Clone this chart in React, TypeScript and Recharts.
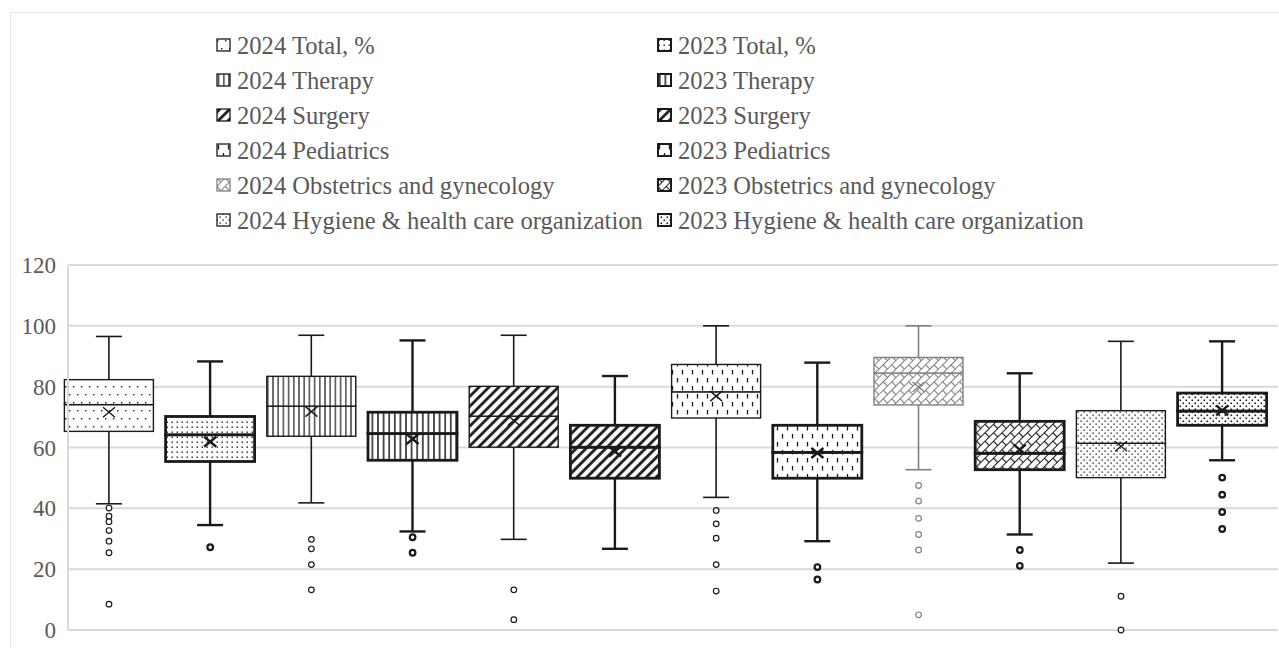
import React from 'react';
import { ComposedChart, Bar, Scatter, XAxis, YAxis, CartesianGrid } from 'recharts';

const categories = [
  '2024 Total, %',
  '2023 Total, %',
  '2024 Therapy',
  '2023 Therapy',
  '2024 Surgery',
  '2023 Surgery',
  '2024 Pediatrics',
  '2023 Pediatrics',
  '2024 Obstetrics and gynecology',
  '2023 Obstetrics and gynecology',
  '2024 Hygiene & health care organization',
  '2023 Hygiene & health care organization',
];

const whiskerLow = [41.5, 34.5, 41.8, 32.4, 29.8, 26.7, 43.6, 29.2, 52.7, 31.4, 22.0, 55.8];
const q1 = [65.3, 55.4, 63.7, 55.8, 60.1, 49.9, 69.7, 49.9, 74.0, 52.7, 50.1, 67.3];
const median = [74.1, 64.2, 73.6, 64.6, 70.3, 60.1, 78.3, 58.4, 84.5, 58.1, 61.4, 72.0];
const q3 = [82.3, 70.2, 83.4, 71.6, 80.1, 67.3, 87.3, 67.3, 89.6, 68.6, 72.1, 77.9];
const whiskerHigh = [96.5, 88.3, 96.9, 95.2, 96.9, 83.5, 100, 87.9, 100, 84.4, 94.9, 94.9];
const mean = [71.6, 61.9, 71.8, 62.8, 68.9, 58.7, 76.9, 58.2, 79.9, 59.3, 60.4, 72.2];
const outliers = [
  [40.1, 37.4, 35.6, 32.7, 29.2, 25.4, 8.5],
  [27.2],
  [29.8, 26.7, 21.5, 13.2],
  [30.5, 25.4],
  [13.2, 3.4],
  [],
  [39.3, 34.9, 30.2, 21.5, 12.8],
  [20.7, 16.6],
  [47.5, 42.4, 36.7, 31.4, 26.3, 5.0],
  [26.3, 21.1],
  [11.1, 0],
  [50.1, 44.5, 38.8, 33.2],
];
const yTicks = [0, 20, 40, 60, 80, 100, 120];

const data = categories.map((name, i) => ({
  name,
  whisker: [whiskerLow[i], whiskerHigh[i]],
  lower: [q1[i], median[i]],
  upper: [median[i], q3[i]],
  mean: mean[i],
  out: outliers[i],
}));

const maxOut = Math.max(...outliers.map((o) => o.length));
const outSlots = Array.from({ length: maxOut }, (_, k) => k);

const FONT = '"Liberation Serif", "Times New Roman", serif';
const TEXT = '#595959';
const GRID = '#d9d9d9';

const is2023 = (i: number) => i % 2 === 1;
const strokeOf = (i: number) => (i === 8 ? '#808080' : '#1a1a1a');
const idxOf = (p: any) => categories.indexOf(p?.name);

function Pattern({ i, id }: { i: number; id: string }) {
  const c = strokeOf(i);
  const kind = Math.floor(i / 2);
  const bold = is2023(i);
  if (kind === 0) {
    if (!bold) {
      return (
        <pattern id={id} width={8} height={16} patternUnits="userSpaceOnUse">
          <rect width={8} height={16} fill="#fff" />
          <rect x={1} y={2} width={1.4} height={1.4} fill={c} />
          <rect x={5} y={10} width={1.4} height={1.4} fill={c} />
        </pattern>
      );
    }
    return (
      <pattern id={id} width={5} height={5} patternUnits="userSpaceOnUse">
        <rect width={5} height={5} fill="#fff" />
        <rect x={1.5} y={1.5} width={1.4} height={1.4} fill={c} />
      </pattern>
    );
  }
  if (kind === 1) {
    const sp = bold ? 5.6 : 5.2;
    return (
      <pattern id={id} width={sp} height={10} patternUnits="userSpaceOnUse">
        <rect width={sp} height={10} fill="#fff" />
        <line x1={sp / 2} x2={sp / 2} y1={0} y2={10} stroke={c} strokeWidth={bold ? 1.5 : 1.2} />
      </pattern>
    );
  }
  if (kind === 2) {
    return (
      <pattern id={id} width={7} height={7} patternUnits="userSpaceOnUse" patternTransform="rotate(45)">
        <rect width={7} height={7} fill="#fff" />
        <line x1={3.5} x2={3.5} y1={0} y2={7} stroke={c} strokeWidth={2.8} />
      </pattern>
    );
  }
  if (kind === 3) {
    return (
      <pattern id={id} width={10} height={16} patternUnits="userSpaceOnUse">
        <rect width={10} height={16} fill="#fff" />
        <line x1={2.5} x2={2.5} y1={2} y2={6.5} stroke={c} strokeWidth={1.3} />
        <line x1={7.5} x2={7.5} y1={10} y2={14.5} stroke={c} strokeWidth={1.3} />
      </pattern>
    );
  }
  if (kind === 4) {
    return (
      <pattern id={id} width={12} height={12} patternUnits="userSpaceOnUse" patternTransform="rotate(-45)">
        <rect width={12} height={12} fill="#fff" />
        <path
          d="M0 0.5 H12 M0 6.5 H12 M0.5 0.5 V6.5 M6.5 6.5 V12"
          stroke={c}
          strokeWidth={1.2}
          fill="none"
        />
      </pattern>
    );
  }
  const s = bold ? 1.6 : 1.3;
  return (
    <pattern id={id} width={6} height={6} patternUnits="userSpaceOnUse">
      <rect width={6} height={6} fill="#fff" />
      <rect x={0.5} y={0.5} width={s} height={s} fill={c} />
      <rect x={3.5} y={3.5} width={s} height={s} fill={c} />
    </pattern>
  );
}

const WhiskerShape = (props: any) => {
  const { x, y, width, height, payload } = props;
  const i = idxOf(payload);
  if (i < 0) return <g />;
  const cx = x + width / 2;
  const top = Math.min(y, y + height);
  const bot = Math.max(y, y + height);
  return (
    <g stroke={strokeOf(i)} strokeWidth={is2023(i) ? 2.4 : 1.6}>
      <line x1={cx} x2={cx} y1={top} y2={bot} />
      <line x1={cx - 13} x2={cx + 13} y1={top} y2={top} />
      <line x1={cx - 13} x2={cx + 13} y1={bot} y2={bot} />
    </g>
  );
};

const BoxShape = (props: any) => {
  const { x, y, width, height, payload } = props;
  const i = idxOf(payload);
  if (i < 0) return <g />;
  const top = Math.min(y, y + height);
  const h = Math.abs(height);
  return (
    <rect
      x={x}
      y={top}
      width={width}
      height={h}
      fill={`url(#pat-${i})`}
      stroke={strokeOf(i)}
      strokeWidth={is2023(i) ? 2.8 : 1.4}
    />
  );
};

const MeanShape = (props: any) => {
  const { cx, cy, payload } = props;
  const i = idxOf(payload);
  if (i < 0 || !Number.isFinite(cx) || !Number.isFinite(cy)) return <g />;
  return (
    <g stroke={strokeOf(i)} strokeWidth={is2023(i) ? 2.4 : 1.4}>
      <line x1={cx - 6} x2={cx + 6} y1={cy - 5} y2={cy + 5} />
      <line x1={cx - 6} x2={cx + 6} y1={cy + 5} y2={cy - 5} />
    </g>
  );
};

const OutlierShape = (props: any) => {
  const { cx, cy, payload } = props;
  const i = idxOf(payload);
  if (i < 0 || !Number.isFinite(cx) || !Number.isFinite(cy)) return <g />;
  return (
    <circle
      cx={cx}
      cy={cy}
      r={2.8}
      fill="#fff"
      stroke={strokeOf(i)}
      strokeWidth={is2023(i) ? 2.2 : 1.2}
    />
  );
};

function LegendIcon({ i }: { i: number }) {
  return (
    <svg width={15} height={14} style={{ verticalAlign: '2px', marginRight: 6 }}>
      <defs>
        <Pattern i={i} id={`leg-${i}`} />
      </defs>
      <rect
        x={1}
        y={1}
        width={13}
        height={12}
        fill={`url(#leg-${i})`}
        stroke={strokeOf(i)}
        strokeWidth={is2023(i) ? 2 : 1.3}
      />
    </svg>
  );
}

const xPad = { left: -9.6, right: 5.2 };

export default function App() {
  const col2024 = categories.map((c, i) => ({ c, i })).filter(({ i }) => !is2023(i));
  const col2023 = categories.map((c, i) => ({ c, i })).filter(({ i }) => is2023(i));
  const colStyle = (left: number): React.CSSProperties => ({
    position: 'absolute',
    left,
    top: 29.3,
    fontFamily: FONT,
    fontSize: 24.6,
    lineHeight: '34.9px',
    color: TEXT,
    whiteSpace: 'nowrap',
  });

  return (
    <div
      style={{
        position: 'absolute',
        left: 0,
        top: 0,
        width: 1279,
        height: 648,
        overflow: 'hidden',
        background: '#fff',
      }}
    >
      <div
        style={{
          position: 'absolute',
          left: 10,
          top: 12,
          width: 1400,
          height: 800,
          border: '1.5px solid #e3e3e3',
        }}
      />
      <div style={colStyle(216)}>
        {col2024.map(({ c, i }) => (
          <div key={c}>
            <LegendIcon i={i} />
            {c}
          </div>
        ))}
      </div>
      <div style={colStyle(657)}>
        {col2023.map(({ c, i }) => (
          <div key={c}>
            <LegendIcon i={i} />
            {c}
          </div>
        ))}
      </div>
      <div style={{ position: 'absolute', left: 0, top: 0 }}>
        <ComposedChart
          width={1279}
          height={648}
          data={data}
          margin={{ top: 265, right: 1, bottom: 18, left: 0 }}
        >
          <defs>
            {categories.map((c, i) => (
              <Pattern key={c} i={i} id={`pat-${i}`} />
            ))}
          </defs>
          <CartesianGrid vertical={false} stroke={GRID} strokeWidth={2} />
          <XAxis dataKey="name" hide padding={xPad} allowDuplicatedCategory={false} />
          <XAxis xAxisId="lo" dataKey="name" hide padding={xPad} allowDuplicatedCategory={false} />
          <XAxis xAxisId="hi" dataKey="name" hide padding={xPad} allowDuplicatedCategory={false} />
          <YAxis
            domain={[0, 120]}
            ticks={yTicks}
            interval={0}
            width={68}
            tickLine={false}
            tickMargin={6}
            axisLine={{ stroke: GRID, strokeWidth: 2 }}
            tick={{ fill: TEXT, fontSize: 23, fontFamily: FONT }}
          />
          <Bar dataKey="whisker" barSize={89} shape={WhiskerShape} isAnimationActive={false} />
          <Bar xAxisId="lo" dataKey="lower" barSize={89} shape={BoxShape} isAnimationActive={false} />
          <Bar xAxisId="hi" dataKey="upper" barSize={89} shape={BoxShape} isAnimationActive={false} />
          <Scatter dataKey="mean" shape={MeanShape} isAnimationActive={false} />
          {outSlots.map((k) => (
            <Scatter
              key={k}
              dataKey={(d: any) => (d.out.length > k ? d.out[k] : null)}
              shape={OutlierShape}
              isAnimationActive={false}
            />
          ))}
        </ComposedChart>
      </div>
    </div>
  );
}
